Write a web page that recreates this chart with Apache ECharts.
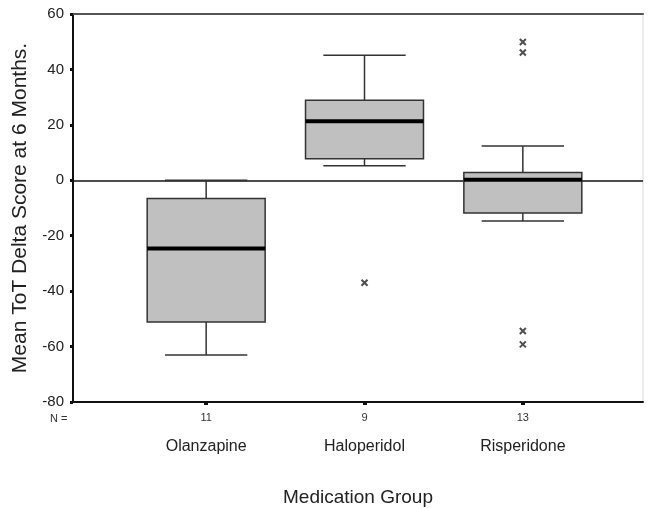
<!DOCTYPE html>
<html>
<head>
<meta charset="utf-8">
<script src="https://cdn.jsdelivr.net/npm/echarts@6/dist/echarts.min.js"></script>
<style>html,body{margin:0;padding:0;background:#fff}#c{width:650px;height:508px}</style>
</head>
<body>
<div id="c"></div>
<script>
// ---- data ----
const categories = ['Olanzapine', 'Haloperidol', 'Risperidone'];
const nCounts = ['11', '9', '13'];
const whiskerLow = [-63, 5.2, -14.7];
const q1Values = [-51.1, 7.8, -11.8];
const medians = [-24.6, 21.3, 0.2];
const q3Values = [-6.6, 28.9, 2.8];
const whiskerHigh = [0, 45.1, 12.4];
const outlierGroup = [1, 2, 2, 2, 2];
const outlierValues = [-37, 49.9, 46.1, -54.4, -59.2];
const yTicks = { min: -80, max: 60, interval: 20 };

const FONT = "'Liberation Sans', Arial, Helvetica, sans-serif";

const boxData = categories.map((c, i) => [i, whiskerLow[i], q1Values[i], medians[i], q3Values[i], whiskerHigh[i]]);
const outlierData = outlierGroup.map((g, i) => [g, outlierValues[i]]);

const chart = echarts.init(document.getElementById('c'));
chart.setOption({
  animation: false,
  backgroundColor: '#fff',
  textStyle: { fontFamily: FONT },
  grid: [
    { left: 73, right: 7, top: 14, bottom: 106, outerBoundsMode: 'none', containLabel: false,
      show: true, borderColor: '#d8d8d8', borderWidth: 1, backgroundColor: 'transparent' },
    { left: 127, width: 475, top: 14, bottom: 106, outerBoundsMode: 'none', containLabel: false }
  ],
  xAxis: [
    { gridIndex: 0, type: 'value', min: 0, max: 1, position: 'bottom',
      axisLine: { show: true, onZero: false, lineStyle: { color: '#111', width: 2 } },
      axisTick: { show: false }, axisLabel: { show: false }, splitLine: { show: false },
      name: 'Medication Group', nameLocation: 'middle', nameGap: 86,
      nameTextStyle: { fontSize: 19, color: '#222', fontFamily: FONT } },
    { gridIndex: 0, type: 'value', min: 0, max: 1, position: 'top',
      axisLine: { show: true, onZero: false, lineStyle: { color: '#555', width: 2 } },
      axisTick: { show: false }, axisLabel: { show: false }, splitLine: { show: false } },
    { gridIndex: 1, type: 'category', data: categories, position: 'bottom',
      axisLine: { show: false, onZero: false },
      axisTick: { show: true, alignWithLabel: true, length: 3, lineStyle: { color: '#111', width: 4 } },
      axisLabel: { margin: 10, fontSize: 11, color: '#333', fontFamily: FONT,
        formatter: (v, i) => nCounts[i] } },
    { gridIndex: 1, type: 'category', data: categories, position: 'bottom',
      axisLine: { show: false, onZero: false }, axisTick: { show: false },
      axisLabel: { margin: 37, fontSize: 16, color: '#222', fontFamily: FONT } }
  ],
  yAxis: [
    { gridIndex: 0, type: 'value', min: yTicks.min, max: yTicks.max, interval: yTicks.interval,
      axisLine: { show: true, lineStyle: { color: '#111', width: 2 } },
      axisTick: { show: true, length: 3, lineStyle: { color: '#111', width: 3 } },
      axisLabel: { margin: 9, fontSize: 15, color: '#222', fontFamily: FONT },
      splitLine: { show: false },
      name: 'Mean ToT Delta Score at 6 Months.', nameLocation: 'middle', nameGap: 42,
      nameTextStyle: { fontSize: 21, color: '#222', fontFamily: FONT } },
    { gridIndex: 1, type: 'value', min: yTicks.min, max: yTicks.max, interval: yTicks.interval, show: false }
  ],
  graphic: [
    { type: 'text', left: 50, top: 413, style: { text: 'N =', fontSize: 11, fill: '#333', fontFamily: FONT } }
  ],
  series: [
    { type: 'line', xAxisIndex: 0, yAxisIndex: 0, data: [], silent: true,
      markLine: { silent: true, symbol: 'none', label: { show: false },
        lineStyle: { color: '#111', width: 1.5, type: 'solid' },
        data: [{ yAxis: 0 }] } },
    { type: 'custom', xAxisIndex: 2, yAxisIndex: 1, data: boxData, z: 5,
      encode: { x: 0, y: [1, 2, 3, 4, 5] },
      renderItem: function (params, api) {
        const x = api.value(0);
        const lo = api.coord([x, api.value(1)]);
        const q1 = api.coord([x, api.value(2)]);
        const md = api.coord([x, api.value(3)]);
        const q3 = api.coord([x, api.value(4)]);
        const hi = api.coord([x, api.value(5)]);
        const band = api.size([1, 0])[0];
        const bw = band * 0.745, cw = band * 0.52;
        const cx = md[0];
        const st = { stroke: '#333', lineWidth: 1.5 };
        return { type: 'group', children: [
          { type: 'line', shape: { x1: cx, y1: q1[1], x2: cx, y2: lo[1] }, style: st },
          { type: 'line', shape: { x1: cx - cw / 2, y1: lo[1], x2: cx + cw / 2, y2: lo[1] }, style: st },
          { type: 'line', shape: { x1: cx, y1: q3[1], x2: cx, y2: hi[1] }, style: st },
          { type: 'line', shape: { x1: cx - cw / 2, y1: hi[1], x2: cx + cw / 2, y2: hi[1] }, style: st },
          { type: 'rect', shape: { x: cx - bw / 2, y: q3[1], width: bw, height: q1[1] - q3[1] },
            style: { fill: '#c0c0c0', stroke: '#333', lineWidth: 1.5 } },
          { type: 'line', shape: { x1: cx - bw / 2, y1: md[1], x2: cx + bw / 2, y2: md[1] },
            style: { stroke: '#000', lineWidth: 4 } }
        ] };
      } },
    { type: 'scatter', xAxisIndex: 2, yAxisIndex: 1, data: outlierData, z: 6,
      symbol: 'path://M0,0L10,10M10,0L0,10', symbolSize: 6,
      itemStyle: { color: 'rgba(0,0,0,0)', borderColor: '#222', borderWidth: 2 } }
  ]
});
</script>
</body>
</html>
